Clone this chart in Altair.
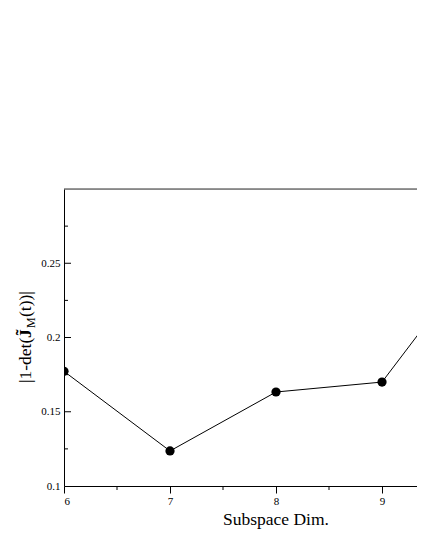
import altair as alt
import pandas as pd

dims = [6, 7, 8, 9, 10]
values = [0.1772, 0.1236, 0.1633, 0.1700, 0.264]

x_major = [6, 7, 8, 9]
x_minor = [6.5, 7.5, 8.5, 9.5]
y_major = [0.1, 0.15, 0.2, 0.25]
y_minor = [0.125, 0.175, 0.225, 0.275]

W, H = 353, 297
FONT = "Liberation Serif"

df = pd.DataFrame({"dim": dims, "val": values})
xs = alt.Scale(domain=[6, 9.33], nice=False, zero=False)
ys = alt.Scale(domain=[0.1, 0.3], nice=False, zero=False)

x_axis = alt.Axis(values=x_major, format="d", tickSize=7, tickColor="black", domainColor="black",
                  labelFont=FONT, labelFontSize=11, labelColor="black", labelPadding=2,
                  grid=False, title=None)
y_axis = alt.Axis(values=y_major, format="~g", tickSize=0, domainColor="black",
                  labelFont=FONT, labelFontSize=11, labelColor="black", labelPadding=4,
                  grid=False, title=None)

base = alt.Chart(df)
line = base.mark_line(color="black", strokeWidth=1, clip=True).encode(
    x=alt.X("dim:Q", scale=xs, axis=x_axis),
    y=alt.Y("val:Q", scale=ys, axis=y_axis),
)
pts = base.mark_circle(color="black", opacity=1, size=85, clip=True).encode(
    x=alt.X("dim:Q", scale=xs), y=alt.Y("val:Q", scale=ys))

top = alt.Chart(pd.DataFrame({"v": [0.3]})).mark_rule(color="#333333", strokeWidth=1.2).encode(
    y=alt.Y("v:Q", scale=ys), x=alt.value(0), x2=alt.value(W))
ymaj = alt.Chart(pd.DataFrame({"v": y_major[1:]})).mark_rule(color="black", strokeWidth=1).encode(
    y=alt.Y("v:Q", scale=ys), x=alt.value(0), x2=alt.value(7))
ymin = alt.Chart(pd.DataFrame({"v": y_minor})).mark_rule(color="black", strokeWidth=1).encode(
    y=alt.Y("v:Q", scale=ys), x=alt.value(0), x2=alt.value(4))
xmin = alt.Chart(pd.DataFrame({"v": x_minor[:3]})).mark_rule(color="black", strokeWidth=1, clip=False).encode(
    x=alt.X("v:Q", scale=xs), y=alt.value(H), y2=alt.value(H + 4))

def txt(s, x, y, size=17.5, weight="normal", angle=270, align="left"):
    return alt.Chart(pd.DataFrame({"t": [s]})).mark_text(
        font=FONT, fontSize=size, fontWeight=weight, angle=angle, align=align,
        baseline="alphabetic", color="black").encode(
        text="t:N", x=alt.value(x), y=alt.value(y))

ytitle = [
    txt("|1-det(", -33, 194),
    txt("J\u0303", -33, 149, weight="bold"),
    txt("M", -29, 139, size=12),
    txt(" (t))|", -33, 128),
]
xtitle = txt("Subspace Dim.", 212, 336, angle=0, align="center")

chart = alt.layer(line, pts, top, ymaj, ymin, xmin, *ytitle, xtitle).properties(
    width=W, height=H,
    autosize=alt.AutoSizeParams(type="none"),
    padding={"left": 56, "top": 181, "right": 0, "bottom": 50},
).configure_view(strokeWidth=0).configure(background="white")

chart.save("out.html", embed_options={"renderer": "svg", "actions": False})
